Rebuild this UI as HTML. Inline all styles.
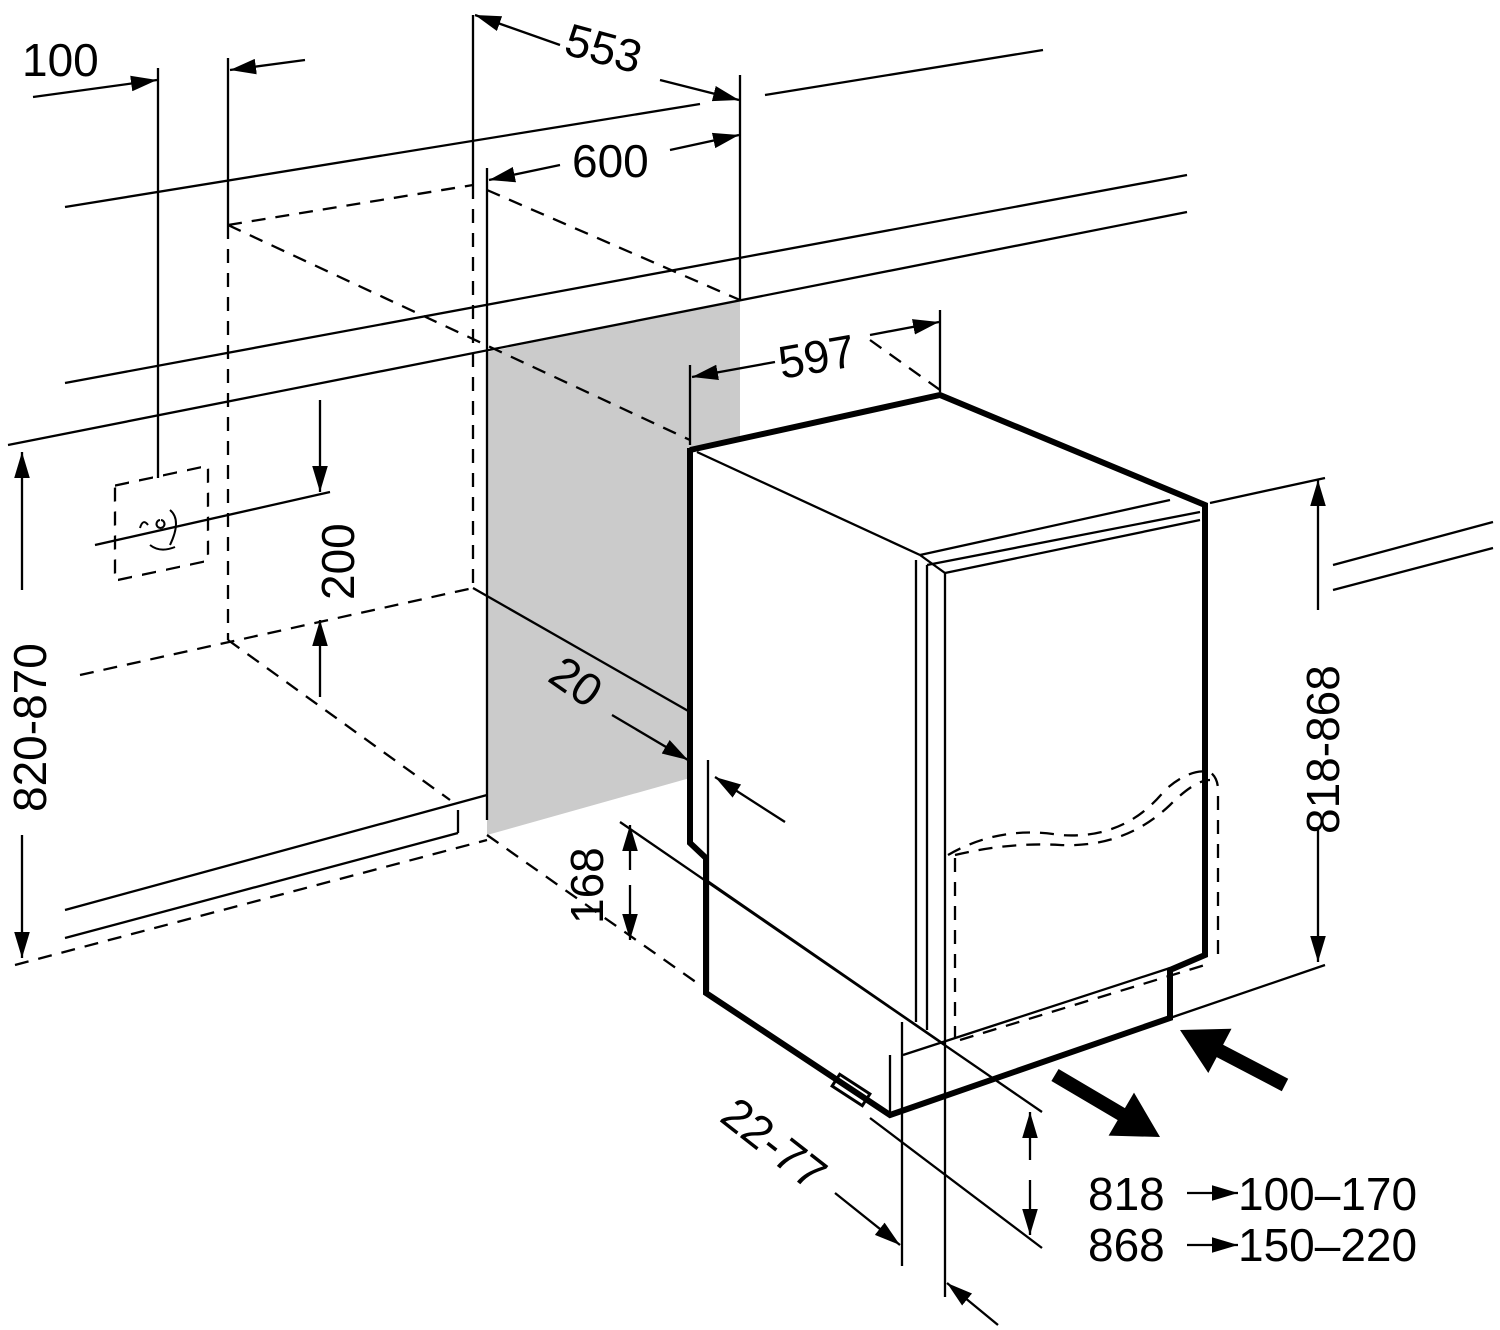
<!DOCTYPE html>
<html><head><meta charset="utf-8"><style>
html,body{margin:0;padding:0;background:#fff;}
svg{display:block;font-family:"Liberation Sans",sans-serif;}
text{font-size:46px;fill:#000;}
</style></head><body>
<svg width="1500" height="1330" viewBox="0 0 1500 1330" xmlns="http://www.w3.org/2000/svg">
<defs>
<marker id="a" viewBox="0 0 10 10" refX="10" refY="5" markerWidth="26" markerHeight="26" markerUnits="userSpaceOnUse" orient="auto"><path d="M0,2 L10,5 L0,8 Z"/></marker>
</defs>
<polygon points="487,352 740,300 740,440 690,450 690,778 487,835" fill="#cbcbcb"/>
<g stroke="#000" stroke-width="2.3" fill="none">
<line x1="65" y1="207" x2="700" y2="104"/>
<line x1="765" y1="95" x2="1043" y2="50"/>
<line x1="65" y1="383" x2="1187" y2="175"/>
<line x1="8" y1="445" x2="1187" y2="212"/>
<line x1="1210" y1="503" x2="1325" y2="478"/>
<line x1="1333" y1="565" x2="1493" y2="522"/>
<line x1="1333" y1="590" x2="1493" y2="548"/>
<line x1="1170" y1="1018" x2="1325" y2="965"/>
<line x1="158" y1="68" x2="158" y2="478"/>
<line x1="228" y1="58" x2="228" y2="225"/>
<line x1="473" y1="15" x2="473" y2="185"/>
<line x1="487" y1="168" x2="487" y2="820"/>
<line x1="740" y1="75" x2="740" y2="300"/>
<line x1="690" y1="365" x2="690" y2="445"/>
<line x1="940" y1="310" x2="940" y2="392"/>
<line x1="65" y1="910" x2="487" y2="795"/>
<line x1="65" y1="938" x2="458" y2="833"/>
<line x1="458" y1="833" x2="458" y2="810"/>
<line x1="473" y1="588" x2="690" y2="712"/>
<line x1="95" y1="545" x2="330" y2="492"/>
<line x1="620" y1="822" x2="1042" y2="1112"/>
<line x1="870" y1="1118" x2="1042" y2="1248"/>
<line x1="902" y1="1022" x2="902" y2="1266"/>
<line x1="945" y1="1035" x2="945" y2="1297"/>
<line x1="697" y1="452" x2="920" y2="555"/>
<line x1="920" y1="555" x2="1170" y2="500"/>
<line x1="927" y1="565" x2="1200" y2="512"/>
<line x1="945" y1="573" x2="1200" y2="520"/>
<line x1="920" y1="555" x2="945" y2="573"/>
<line x1="916" y1="560" x2="916" y2="1022"/>
<line x1="927" y1="565" x2="927" y2="1030"/>
<line x1="945" y1="573" x2="945" y2="1035"/>
<line x1="706" y1="880" x2="945" y2="1045"/>
<line x1="708" y1="760" x2="708" y2="990"/>
<line x1="903" y1="1055" x2="1170" y2="968"/>
<line x1="890" y1="1055" x2="890" y2="1115"/>
</g>
<g stroke="#000" stroke-width="2.3" fill="none" stroke-dasharray="14,10">
<line x1="228" y1="225" x2="228" y2="640"/>
<line x1="473" y1="185" x2="473" y2="590"/>
<line x1="228" y1="225" x2="473" y2="185"/>
<line x1="487" y1="190" x2="740" y2="300"/>
<line x1="228" y1="225" x2="690" y2="440"/>
<line x1="80" y1="675" x2="473" y2="588"/>
<line x1="228" y1="640" x2="450" y2="800"/>
<line x1="487" y1="835" x2="700" y2="985"/>
<line x1="15" y1="965" x2="487" y2="840"/>
<line x1="870" y1="340" x2="940" y2="390"/>
<rect x="115" y="475" width="93" height="95" transform="skewY(-12) translate(0,35)"/>
<path d="M948,855 Q1000,825 1060,835 Q1125,840 1165,790 Q1190,768 1210,772 Q1218,778 1218,790 L1218,960"/>
<path d="M955,855 Q1010,842 1060,845 Q1125,848 1170,805 Q1195,780 1210,780"/>
<line x1="955" y1="858" x2="955" y2="1038"/>
<line x1="960" y1="1040" x2="1205" y2="965"/>
</g>
<path d="M140,528 q3,-10 8,-3 M160,520 a4,4 0 1,0 1,0 M170,510 q12,10 0,35 M150,545 q10,8 25,2" stroke="#000" stroke-width="2" fill="none"/>
<g stroke="#000" stroke-width="6" fill="none" stroke-linejoin="miter">
<polyline points="690,450 940,395 1205,505 1205,955 1170,970 1170,1018 890,1115 706,993 706,858 690,843 690,448"/>
<rect x="833" y="1083" width="36" height="14" stroke-width="3" transform="rotate(33 851 1090)"/>
</g>
<g stroke="#000" stroke-width="2.3" fill="none" marker-end="url(#a)">
<line x1="33" y1="97" x2="157" y2="80"/>
<line x1="305" y1="60" x2="230" y2="70"/>
<line x1="560" y1="45" x2="475" y2="15"/>
<line x1="660" y1="80" x2="739" y2="100"/>
<line x1="560" y1="165" x2="489" y2="180"/>
<line x1="670" y1="150" x2="739" y2="135"/>
<line x1="775" y1="362" x2="692" y2="377"/>
<line x1="870" y1="335" x2="939" y2="322"/>
<line x1="320" y1="400" x2="320" y2="492"/>
<line x1="320" y1="697" x2="320" y2="620"/>
<line x1="22" y1="590" x2="22" y2="452"/>
<line x1="22" y1="835" x2="22" y2="958"/>
<line x1="1318" y1="610" x2="1318" y2="480"/>
<line x1="1318" y1="830" x2="1318" y2="962"/>
<line x1="630" y1="870" x2="630" y2="825"/>
<line x1="630" y1="885" x2="630" y2="940"/>
<line x1="612" y1="715" x2="688" y2="760"/>
<line x1="785" y1="822" x2="715" y2="777"/>
<line x1="1030" y1="1160" x2="1030" y2="1112"/>
<line x1="1030" y1="1180" x2="1030" y2="1235"/>
<line x1="835" y1="1193" x2="900" y2="1245"/>
<line x1="998" y1="1325" x2="947" y2="1283"/>
<line x1="1187" y1="1193" x2="1238" y2="1193"/>
<line x1="1187" y1="1245" x2="1238" y2="1245"/>
</g>
<polygon fill="#000" points="1051.4,1081 1117.7,1120.1 1108.6,1135.6 1160,1137 1134,1092.6 1124.9,1108.1 1058.6,1069"/>
<polygon fill="#000" points="1288.2,1078.8 1223.1,1044.7 1231.5,1028.8 1180,1030 1208.3,1073 1216.7,1057.1 1281.8,1091.2"/>
<text x="22" y="76">100</text>
<text x="565" y="66" transform="rotate(15 610 50)">553</text>
<text x="572" y="177">600</text>
<text x="778" y="372" transform="rotate(-10 820 355)">597</text>
<text transform="translate(354,600) rotate(-90)">200</text>
<text transform="translate(46,812) rotate(-90)">820-870</text>
<text transform="translate(546,680) rotate(35)">20</text>
<text transform="translate(603,924) rotate(-90)">168</text>
<text transform="translate(718,1120) rotate(38)">22-77</text>
<text transform="translate(1339,834) rotate(-90)">818-868</text>
<text x="1088" y="1210">818</text>
<text x="1238" y="1210">100–170</text>
<text x="1088" y="1261">868</text>
<text x="1238" y="1261">150–220</text>
</svg>
</body></html>
